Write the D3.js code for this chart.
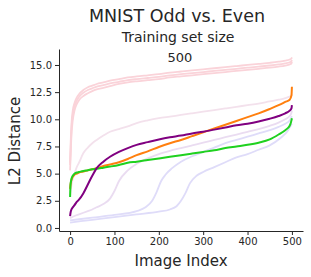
<!DOCTYPE html>
<html>
<head>
<meta charset="utf-8">
<script src="https://cdn.jsdelivr.net/npm/d3@7"></script>
<style>
  body { margin: 0; background: #fff; }
  svg { font-family: "DejaVu Sans", sans-serif; }
</style>
</head>
<body>
<div id="vis"></div>
<script>
const FRAME_WIDTH = 311;
const FRAME_HEIGHT = 277;

// x index knots shared by the main curves
const IDX = [0, 1, 3, 6, 10, 15, 20, 30, 40, 50, 60, 75, 90, 110, 130, 150, 175, 200,
             225, 250, 275, 300, 325, 350, 375, 400, 425, 450, 470, 485, 495, 499, 500];

const GREEN = [2.85, 4.0, 4.5, 4.8, 5.0, 5.1, 5.15, 5.25, 5.32, 5.4, 5.45, 5.55, 5.65, 5.8, 6.0, 6.1, 6.25, 6.4,
               6.55, 6.7, 6.85, 7.0, 7.15, 7.35, 7.5, 7.65, 7.85, 8.15, 8.6, 9.0, 9.4, 9.9, 10.1];
const ORANGE = [3.6, 4.0, 4.4, 4.7, 4.9, 5.0, 5.1, 5.2, 5.3, 5.4, 5.5, 5.7, 5.85, 6.05, 6.35, 6.7, 7.05, 7.45,
                7.8, 8.1, 8.45, 8.8, 9.15, 9.5, 9.85, 10.2, 10.55, 10.95, 11.3, 11.6, 11.8, 12.2, 13.0];
const PURPLE = [1.1, 1.4, 1.7, 1.9, 2.1, 2.4, 2.6, 3.2, 4.0, 4.8, 5.5, 6.1, 6.55, 7.0, 7.35, 7.65, 7.9, 8.15,
                8.35, 8.5, 8.7, 8.85, 9.05, 9.25, 9.45, 9.6, 9.8, 10.05, 10.3, 10.55, 10.8, 11.0, 11.3];
const PINK_A = [6.0, 7.5, 9.5, 10.8, 11.5, 12.0, 12.3, 12.7, 12.95, 13.1, 13.25, 13.4, 13.55, 13.7, 13.85, 13.95, 14.05, 14.15,
                14.3, 14.4, 14.5, 14.6, 14.7, 14.8, 14.9, 15.0, 15.1, 15.2, 15.3, 15.4, 15.5, 15.6, 15.7];
const PINK_B = [5.8, 7.0, 9.0, 10.4, 11.2, 11.7, 12.05, 12.45, 12.7, 12.85, 13.0, 13.15, 13.3, 13.45, 13.6, 13.7, 13.8, 13.9,
                14.05, 14.15, 14.25, 14.35, 14.45, 14.55, 14.65, 14.75, 14.85, 14.95, 15.05, 15.15, 15.25, 15.35, 15.45];
const PINK_C = [5.3, 6.5, 8.5, 9.9, 10.8, 11.4, 11.75, 12.15, 12.4, 12.6, 12.75, 12.9, 13.05, 13.25, 13.4, 13.5, 13.6, 13.7,
                13.85, 13.95, 14.05, 14.15, 14.25, 14.35, 14.45, 14.55, 14.65, 14.75, 14.85, 14.95, 15.05, 15.15, 15.3];
const PINK_D = [3.0, 3.3, 3.9, 4.5, 5.0, 5.6, 6.0, 6.9, 7.4, 7.8, 8.1, 8.5, 8.85, 9.1, 9.35, 9.65, 9.9, 10.1,
                10.25, 10.4, 10.55, 10.7, 10.85, 11.0, 11.15, 11.3, 11.45, 11.65, 11.8, 11.95, 12.1, 12.2, 12.3];

// lavender S-shaped curves, each with its own knots
const S1_IDX = [0, 10, 20, 30, 40, 50, 60, 75, 90, 100, 110, 130, 150, 175, 200, 225, 250, 275, 300,
                325, 350, 375, 400, 425, 450, 470, 485, 495, 499, 500];
const S1 = [0.9, 1.1, 1.25, 1.4, 1.55, 1.7, 1.9, 2.2, 2.7, 3.4, 4.3, 5.3, 5.9, 6.4, 6.8, 7.1, 7.35, 7.6, 7.85,
            8.1, 8.35, 8.6, 8.85, 9.1, 9.4, 9.7, 10.0, 10.3, 10.6, 10.8];
const S2_IDX = [0, 20, 50, 100, 150, 170, 185, 195, 205, 215, 230, 250, 275, 300, 325, 350, 375, 400,
                425, 450, 470, 485, 495, 500];
const S2 = [0.7, 0.8, 0.95, 1.2, 1.55, 1.9, 2.5, 3.3, 4.3, 4.9, 5.5, 6.1, 6.6, 7.0, 7.4, 7.8, 8.1, 8.4,
            8.7, 9.0, 9.3, 9.6, 9.9, 10.3];
const S3_IDX = [0, 50, 100, 150, 200, 225, 240, 250, 260, 270, 285, 300, 325, 350, 375, 400, 425, 450,
                475, 490, 500];
const S3 = [0.5, 0.75, 1.0, 1.25, 1.5, 1.7, 2.0, 2.5, 3.2, 4.1, 4.8, 5.15, 5.6, 6.05, 6.5, 6.8, 7.2, 7.6,
            8.3, 8.9, 9.6];

const X_TICKS = [0, 100, 200, 300, 400, 500];
const Y_TICKS = [0, 2.5, 5, 7.5, 10, 12.5, 15];

const FRAME = d3.select("#vis")
                .append("svg")
                    .attr("width", FRAME_WIDTH)
                    .attr("height", FRAME_HEIGHT);

const X_SCALE = d3.scaleLinear()
                  .domain([-25, 525])
                  .range([59, 303]);

const Y_SCALE = d3.scaleLinear()
                  .domain([-0.28, 16.47])
                  .range([231, 49]);

const line = d3.line()
               .x((d) => X_SCALE(d[0]))
               .y((d) => Y_SCALE(d[1]))
               .curve(d3.curveMonotoneX);

function drawLine(idx, vals, color, width) {
    FRAME.append("path")
         .datum(idx.map((x, i) => [x, vals[i]]))
         .attr("d", line)
         .attr("fill", "none")
         .attr("stroke", color)
         .attr("stroke-width", width)
         .attr("stroke-linejoin", "round");
}

// faint background curves
drawLine(S3_IDX, S3, "#dfdcf9", 1.8);
drawLine(S2_IDX, S2, "#dfdcf9", 1.8);
drawLine(S1_IDX, S1, "#eadcf1", 1.8);
drawLine(IDX, PINK_D, "#f3e1ec", 1.8);
drawLine(IDX, PINK_C, "#fad3d9", 1.8);
drawLine(IDX, PINK_B, "#fad3d9", 1.8);
drawLine(IDX, PINK_A, "#fad3d9", 1.8);

// highlighted curves
drawLine(IDX, ORANGE, "#ff7f0e", 2);
drawLine(IDX, GREEN, "#1fd11f", 2);
drawLine(IDX, PURPLE, "#800080", 2);

// x axis
const xAxis = FRAME.append("g")
     .attr("transform", "translate(0,231)")
     .call(d3.axisBottom(X_SCALE).tickValues(X_TICKS).tickSize(4).tickPadding(3).tickSizeOuter(0))
     .attr("font-size", "10px")
     .attr("font-family", "DejaVu Sans, sans-serif");

// y axis
const yAxis = FRAME.append("g")
     .attr("transform", "translate(59,0)")
     .call(d3.axisLeft(Y_SCALE).tickValues(Y_TICKS).tickFormat(d3.format(".1f")).tickSize(4).tickPadding(3).tickSizeOuter(0))
     .attr("font-size", "10px")
     .attr("font-family", "DejaVu Sans, sans-serif");

[xAxis, yAxis].forEach((g) => {
    g.selectAll("path, line").attr("stroke", "#262626").attr("stroke-width", 1);
    g.selectAll("text").attr("fill", "#262626");
});

// titles and labels
FRAME.append("text")
     .attr("x", 177).attr("y", 22)
     .attr("text-anchor", "middle")
     .attr("font-size", "17.5px")
     .attr("fill", "#262626")
     .text("MNIST Odd vs. Even");

FRAME.append("text")
     .attr("x", 178).attr("y", 42)
     .attr("text-anchor", "middle")
     .attr("font-size", "14px")
     .attr("fill", "#262626")
     .text("Training set size");

FRAME.append("text")
     .attr("x", 180).attr("y", 62)
     .attr("text-anchor", "middle")
     .attr("font-size", "13px")
     .attr("fill", "#262626")
     .text("500");

FRAME.append("text")
     .attr("x", 181).attr("y", 266)
     .attr("text-anchor", "middle")
     .attr("font-size", "15px")
     .attr("fill", "#262626")
     .text("Image Index");

FRAME.append("text")
     .attr("transform", "translate(20,141) rotate(-90)")
     .attr("text-anchor", "middle")
     .attr("font-size", "15px")
     .attr("fill", "#262626")
     .text("L2 Distance");
</script>
</body>
</html>
